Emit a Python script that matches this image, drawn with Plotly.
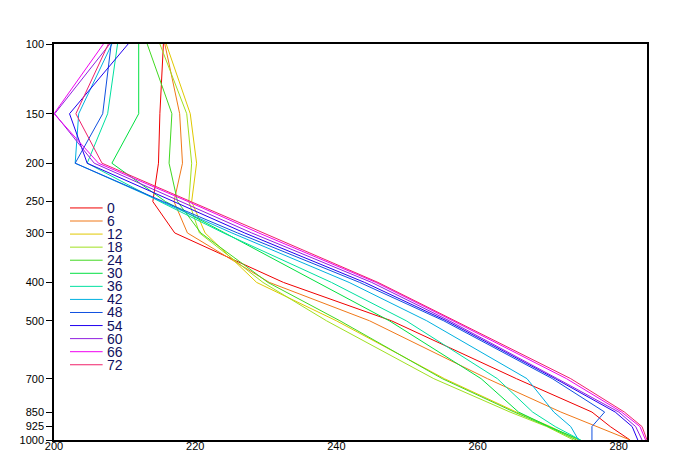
import plotly.graph_objects as go

levels = [100, 150, 200, 250, 300, 400, 500, 700, 850, 925, 1000]
level_labels = ["100", "150", "200", "250", "300", "400", "500", "700", "850", "925", "1000"]
x_ticks = [200, 220, 240, 260, 280]

hours = ["0", "6", "12", "18", "24", "30", "36", "42", "48", "54", "60", "66", "72"]

t_00 = [215.5, 215.0, 214.8, 214.0, 217.1, 232.5, 247.8, 265.5, 276.2, 278.8, 281.6]
t_06 = [215.7, 217.8, 218.2, 217.0, 218.9, 230.5, 244.7, 261.4, 271.8, 277.0, 281.6]
t_12 = [215.9, 219.3, 220.2, 219.5, 221.4, 228.7, 240.0, 255.3, 265.5, 270.3, 274.3]
t_18 = [215.0, 218.8, 219.5, 219.1, 220.6, 229.6, 238.6, 253.8, 264.6, 269.8, 273.6]
t_24 = [213.2, 216.7, 216.3, 217.5, 220.8, 230.3, 240.5, 255.0, 265.2, 270.0, 274.0]
t_30 = [212.0, 212.0, 208.2, 215.8, 224.2, 237.3, 247.5, 260.5, 265.8, 270.1, 274.6]
t_36 = [209.0, 207.6, 204.7, 215.0, 224.0, 239.3, 249.9, 262.8, 267.8, 271.0, 274.6]
t_42 = [208.2, 203.5, 203.0, 215.3, 225.2, 241.8, 252.8, 267.0, 270.8, 273.2, 274.3]
t_48 = [208.1, 206.9, 203.0, 215.5, 226.0, 243.3, 255.2, 270.6, 278.0, 276.2, 276.2]
t_54 = [210.5, 202.2, 204.7, 217.0, 227.0, 244.0, 255.6, 271.0, 279.5, 281.9, 282.7]
t_60 = [207.9, 200.1, 205.7, 218.0, 228.0, 245.0, 256.0, 271.3, 280.0, 282.4, 283.3]
t_66 = [207.0, 200.0, 206.3, 219.0, 229.0, 245.6, 256.5, 272.6, 280.4, 283.0, 283.8]
t_72 = [207.7, 203.1, 206.8, 219.4, 229.5, 245.9, 256.8, 273.2, 280.8, 283.3, 284.0]

series = [t_00, t_06, t_12, t_18, t_24, t_30, t_36, t_42, t_48, t_54, t_60, t_66, t_72]

colors = ["#f00000", "#f07818", "#e0c800", "#a0e020", "#40d820", "#00e040",
          "#00e0a0", "#00b0e0", "#1050e0", "#2000f0", "#9020e0", "#f000f0", "#f0206a"]

fig = go.Figure()
for name, temps, col in zip(hours, series, colors):
    fig.add_trace(go.Scatter(x=temps, y=levels, mode="lines", name=name,
                             line=dict(color=col, width=1), showlegend=False))

# custom compact legend (key lines + labels)
leg_x0, leg_x1, leg_tx = 0.027, 0.082, 0.088
leg_y0, leg_dy = 0.586, 0.0330
for i, (name, col) in enumerate(zip(hours, colors)):
    yy = leg_y0 - i * leg_dy
    fig.add_shape(type="line", xref="paper", yref="paper", x0=leg_x0, x1=leg_x1,
                  y0=yy, y1=yy, line=dict(color=col, width=1))
    fig.add_annotation(xref="paper", yref="paper", x=leg_tx, y=yy, text=name,
                       showarrow=False, xanchor="left", yanchor="middle",
                       height=12, valign="middle", borderpad=0,
                       font=dict(family="Liberation Sans, Arial, sans-serif", size=14, color="#101060"))

fig.update_layout(
    width=688, height=476,
    margin=dict(l=44, r=49, t=36, b=44),
    paper_bgcolor="white", plot_bgcolor="white",
    font=dict(family="Liberation Sans, Arial, sans-serif", size=11, color="black"),
)
fig.update_xaxes(range=[200, 284], tickvals=x_ticks, ticktext=[str(v) for v in x_ticks],
                 ticks="", ticklabelstandoff=-5,
                 showline=True, linecolor="black", linewidth=1.5, mirror=True,
                 showgrid=False, zeroline=False)
fig.update_yaxes(type="log", range=[3, 2], tickvals=levels, ticktext=level_labels,
                 ticks="outside", ticklen=6, tickcolor="black", tickwidth=1,
                 showline=True, linecolor="black", linewidth=1.5, mirror=True,
                 showgrid=False, zeroline=False)

fig.write_html("out.html")
